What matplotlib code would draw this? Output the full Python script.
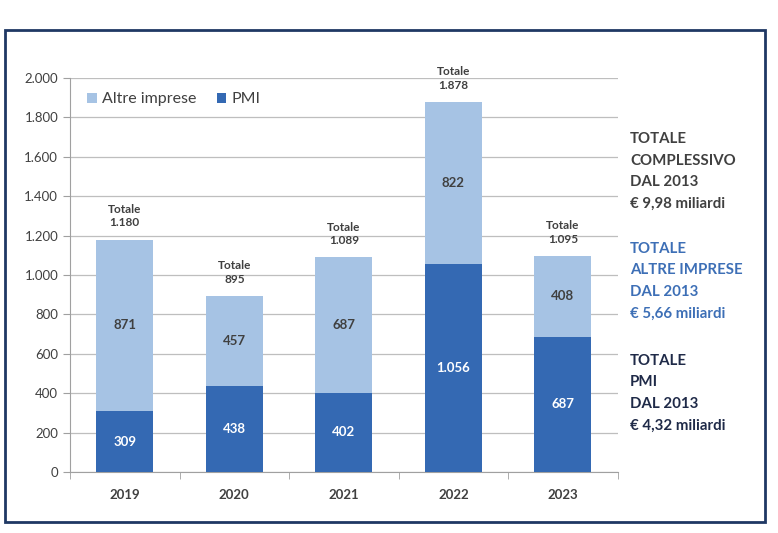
import matplotlib
matplotlib.use("Agg")
import matplotlib.pyplot as plt
from matplotlib.patches import Rectangle
import numpy as np

plt.rcParams['font.family'] = ['Lato', 'DejaVu Sans']

anni = ["2019", "2020", "2021", "2022", "2023"]
pmi = [309, 438, 402, 1056, 687]
altre = [871, 457, 687, 822, 408]
totali = [1180, 895, 1089, 1878, 1095]

c_altre = "#A6C3E4"
c_pmi = "#3469B3"
grigio = "#404040"


def fmt(v):
    return "{:,}".format(int(v)).replace(",", ".")


fig = plt.figure(figsize=(7.78, 5.33), dpi=100)
ax = fig.add_axes([0.09, 0.1144, 0.704, 0.7393])

x = np.arange(len(anni))
w = 0.52
b1 = ax.bar(x, pmi, w, color=c_pmi, label="PMI", zorder=3)
b2 = ax.bar(x, altre, w, bottom=pmi, color=c_altre, label="Altre imprese", zorder=3)

for i in range(len(anni)):
    ax.text(x[i], pmi[i] / 2, fmt(pmi[i]), ha="center", va="center",
            color="white", fontsize=9.5, fontweight="bold", zorder=4)
    ax.text(x[i], pmi[i] + altre[i] / 2, fmt(altre[i]), ha="center", va="center",
            color=grigio, fontsize=9.5, fontweight="bold", zorder=4)
    ax.annotate("Totale\n" + fmt(totali[i]), (x[i], totali[i]), xytext=(0, 8),
                textcoords="offset points", ha="center", va="bottom",
                color=grigio, fontsize=8.5, fontweight="bold", linespacing=1.3)

ax.set_ylim(0, 2000)
ax.set_xlim(-0.5, 4.5)
ax.set_yticks(np.arange(0, 2001, 200))
ax.set_yticklabels([fmt(v) for v in np.arange(0, 2001, 200)])
ax.set_xticks(x)
ax.set_xticklabels(anni, fontweight="bold")
ax.set_xticks(np.arange(-0.5, 4.6, 1), minor=True)
ax.tick_params(axis="x", which="major", length=0, pad=12, labelsize=9.5, labelcolor=grigio)
ax.tick_params(axis="x", which="minor", length=5, color="#A0A0A0", direction="out")
ax.tick_params(axis="y", length=5, color="#A0A0A0", labelsize=9.5, labelcolor=grigio)
ax.grid(axis="y", color="#BEBEBE", linewidth=0.9, zorder=0)
for s in ["top", "right"]:
    ax.spines[s].set_visible(False)
for s in ["left", "bottom"]:
    ax.spines[s].set_color("#A0A0A0")

leg = ax.legend(handles=[b2, b1], loc="upper left", ncol=2, frameon=False,
                fontsize=11.5, handlelength=0.6, handleheight=0.6,
                handletextpad=0.3, columnspacing=1.3, bbox_to_anchor=(0.005, 1.0))
for t in leg.get_texts():
    t.set_color(grigio)

blocchi = [
    (["TOTALE", "COMPLESSIVO", "DAL 2013", "€ 9,98 miliardi"], grigio, 0.752),
    (["TOTALE", "ALTRE IMPRESE", "DAL 2013", "€ 5,66 miliardi"], "#3D6FB6", 0.546),
    (["TOTALE", "PMI", "DAL 2013", "€ 4,32 miliardi"], "#1F2A48", 0.336),
]
for righe, col, ytop in blocchi:
    fig.text(0.81, ytop, "\n".join(righe), color=col, fontsize=10.8,
             fontweight="bold", va="top", ha="left", linespacing=1.68)

fig.patches.append(Rectangle((0.0064, 0.0206), 0.977, 0.923, transform=fig.transFigure,
                             fill=False, edgecolor="#1F3864", linewidth=2))

fig.savefig("out.png", dpi=100)
